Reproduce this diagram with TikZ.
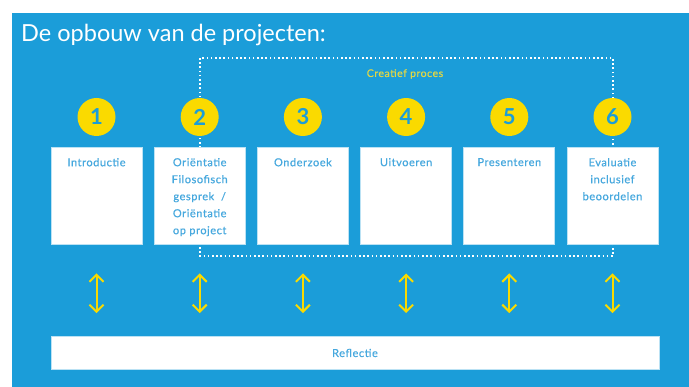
\documentclass[tikz,border=0pt]{standalone}
\usepackage{fontspec}
\setmainfont{Lato}
\newfontfamily\stapfont[LetterSpace=5,FakeBold=0.6]{Lato}
\usetikzlibrary{arrows.meta}
\definecolor{achtergrond}{RGB}{27,157,217}
\definecolor{geel}{RGB}{250,218,0}
\definecolor{tekstblauw}{RGB}{70,168,222}
\definecolor{procesgeel}{RGB}{225,215,70}

\begin{document}
\begin{tikzpicture}[x=1pt,y=-1pt,
    stap/.style={draw=white!70!achtergrond, line width=0.8pt, fill=white, minimum width=91pt, minimum height=97pt, inner sep=0pt},
    staptekst/.style={anchor=north, align=center, text=tekstblauw, font=\stapfont\fontsize{11}{17}\selectfont},
    nummer/.style={circle, fill=geel, minimum size=38pt, inner sep=0pt, text=achtergrond, font=\bfseries\fontsize{22}{22}\selectfont},
    pijl/.style={geel, line width=2pt, {Straight Barb[length=7pt,width=14pt]}-{Straight Barb[length=7pt,width=14pt]}},
    kader/.style={white, line width=1.6pt, dash pattern=on 1.6pt off 2.6pt}]
    \useasboundingbox (0,0) rectangle (689,387);
    \fill[achtergrond] (12,13) rectangle (689,387);
    \node[anchor=base west, text=white, inner sep=0pt, font=\fontsize{23.5}{24}\selectfont] (titel) at (21,42) {De opbouw van de projecten:};
    % kader creatief proces
    \coordinate (kaderlb) at (200,58);
    \coordinate (kaderro) at (613,256);
    \draw[kader] (kaderlb) rectangle (kaderro);
    \node[text=procesgeel, font=\stapfont\fontsize{10.5}{11}\selectfont] (proces) at (405,74) {Creatief proces};
    % reflectie
    \node[stap, minimum width=608pt, minimum height=33pt] (reflectie) at (355,353) {};
    \node[staptekst, anchor=center] (reflectietekst) at (reflectie) {Reflectie};
    % stappen
    \foreach \i/\t [evaluate={\x=96.5+103.2*(\i-1);}] in {1/Introductie,
        2/{Oriëntatie\\Filosofisch\\gesprek~ /\\Oriëntatie\\op project},
        3/Onderzoek, 4/Uitvoeren, 5/Presenteren,
        6/{Evaluatie\\inclusief\\beoordelen}}
    {
        \node[stap] (box\i) at (\x,195.5) {};
        \node[staptekst] (tekst\i) at ([yshift=-8pt]box\i.north) {\t};
        \node[nummer] (num\i) at (\x,117) {\i};
        \draw[pijl, shorten <=29pt, shorten >=23pt] (box\i.south) -- (box\i.south |- reflectie.north);
    }
\end{tikzpicture}
\end{document}
